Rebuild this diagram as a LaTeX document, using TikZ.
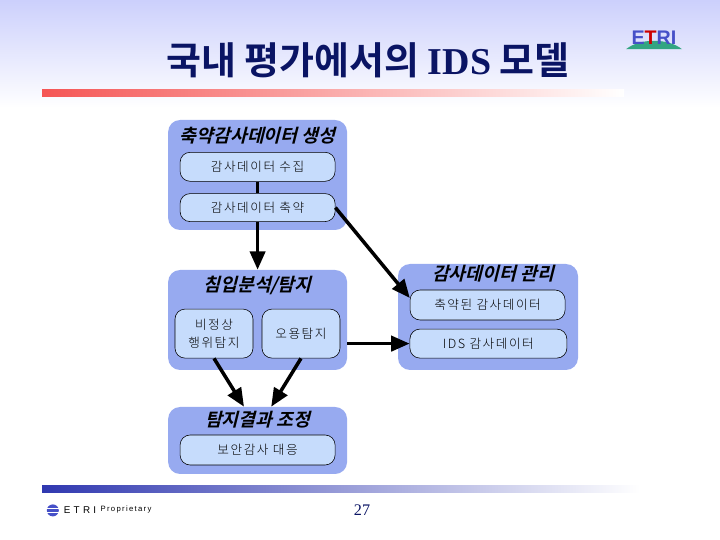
\documentclass[tikz,border=0pt]{standalone}
\usepackage{fontspec}
\usepackage{xcolor}
\usetikzlibrary{arrows.meta, positioning, shapes.geometric}
\setmainfont{Liberation Serif}
\setsansfont{Liberation Sans}
\newfontfamily\krtitle[BoldFont={Noto Sans CJK KR Bold}]{Noto Sans CJK KR}
\newfontfamily\krhead[FakeSlant=0.25]{Noto Sans CJK KR Bold}
\newfontfamily\krbox[LetterSpace=12]{Noto Sans CJK KR Light}
\definecolor{panelblue}{RGB}{151, 170, 240}
\definecolor{boxblue}{RGB}{198, 220, 252}
\definecolor{skyblue}{RGB}{204, 208, 252}
\definecolor{titlenavy}{RGB}{10, 20, 100}
\definecolor{barred}{RGB}{245, 85, 85}
\definecolor{barblue}{RGB}{48, 56, 176}
\definecolor{logoblue}{RGB}{70, 80, 200}
\definecolor{logogreen}{RGB}{50, 165, 130}

\begin{document}
\begin{tikzpicture}[
    panel/.style={rectangle, fill=panelblue, rounded corners=0.3cm, minimum width=4.475cm},
    headlabel/.style={font=\krhead\fontsize{13}{15}\selectfont, text=black, inner sep=0pt},
    taskbox/.style={rectangle, draw=black, fill=boxblue, rounded corners=0.25cm, align=center, font=\krbox\fontsize{9}{12.5}\selectfont, minimum width=3.875cm, inner sep=0pt},
    arrow/.style={-{Triangle[length=0.46cm, width=0.38cm]}, line width=2.5pt, draw=black}
]
    \useasboundingbox (0, 0) rectangle (18, 13.5);

    % Page background and bars
    \shade[top color=skyblue, bottom color=white] (0, 10.8) rectangle (18, 13.5);
    \shade[left color=barred, right color=white] (1.05, 11.08) rectangle (15.6, 11.25);
    \shade[left color=barblue, right color=white] (1.05, 1.18) rectangle (16, 1.35);

    % Title
    \node[font=\krtitle\bfseries\fontsize{27}{30}\selectfont, text=titlenavy] (title) at (9.2, 12) {국내 평가에서의 {\rmfamily IDS} 모델};

    % Logo
    \fill[logogreen] (15.65, 12.27) .. controls (16, 12.55) and (16.7, 12.55) .. (17.05, 12.27) -- cycle;
    \node[font=\sffamily\bfseries\fontsize{14}{15}\selectfont, text=logoblue, inner sep=0pt] (logo) at (16.35, 12.55) {E\textcolor{red!80!black}{T}RI};

    % Generation
    \node[panel, minimum height=2.75cm] (gen) at (6.44, 9.125) {};
    \node[headlabel] (genlabel) at (6.44, 10.1) {축약감사데이터 생성};
    \node[taskbox, minimum height=0.725cm] (collect) at (6.44, 9.33) {감사데이터 수집};
    \node[taskbox, minimum height=0.7cm] (reduce) at (6.44, 8.31) {감사데이터 축약};

    % Detection
    \node[panel, minimum height=2.5cm] (detect) at (6.44, 5.5) {};
    \node[headlabel] (detectlabel) at (6.44, 6.375) {침입분석/탐지};
    \node[taskbox, minimum width=1.95cm, minimum height=1.225cm] (anomaly) at (5.35, 5.16) {비정상\\행위탐지};
    \node[taskbox, minimum width=1.95cm, minimum height=1.225cm] (misuse) at (7.525, 5.16) {오용탐지};

    % Audit data
    \node[panel, minimum width=4.5cm, minimum height=2.65cm] (audit) at (12.2, 5.575) {};
    \node[headlabel] (auditlabel) at (12.325, 6.65) {감사데이터 관리};
    \node[taskbox, minimum height=0.75cm] (stored) at (12.19, 5.875) {축약된 감사데이터};
    \node[taskbox, minimum width=3.925cm, minimum height=0.725cm] (idsdata) at (12.21, 4.91) {IDS 감사데이터};

    % Adjustment
    \node[panel, minimum height=1.675cm] (result) at (6.44, 2.4875) {};
    \node[headlabel] (resultlabel) at (6.44, 3) {탐지결과 조정};
    \node[taskbox, minimum height=0.75cm] (respond) at (6.44, 2.25) {보안감사 대응};

    \draw[line width=2.5pt] (collect) -- (reduce);
    \draw[arrow] (reduce) -- (gen.south |- detect.north);
    \draw[arrow] (reduce.east) -- ([yshift=0.175cm]stored.west);
    \draw[arrow] (detect.east |- idsdata.west) -- (idsdata.west);
    \draw[arrow] (anomaly.south) -- ([xshift=-0.34cm]result.north);
    \draw[arrow] (misuse.south) -- ([xshift=0.34cm]result.north);

    % Footer
    \fill[logoblue] (1.32, 0.74) circle (0.15);
    \draw[white, line width=0.5pt] (1.17, 0.78) -- (1.47, 0.78) (1.17, 0.7) -- (1.47, 0.7);
    \node[font=\sffamily\fontsize{7}{8}\selectfont, text=black, inner sep=0pt] (etri) at (2, 0.75) {E\,\,T\,\,R\,\,I};
    \node[font=\sffamily\fontsize{5.5}{7}\selectfont, text=black, inner sep=0pt, right=0.1cm of etri] (prop) {P\,r\,o\,p\,r\,i\,e\,t\,a\,r\,y};
    \node[font=\rmfamily\fontsize{11.5}{13}\selectfont, text=titlenavy] (page) at (9.05, 0.75) {27};
\end{tikzpicture}
\end{document}
